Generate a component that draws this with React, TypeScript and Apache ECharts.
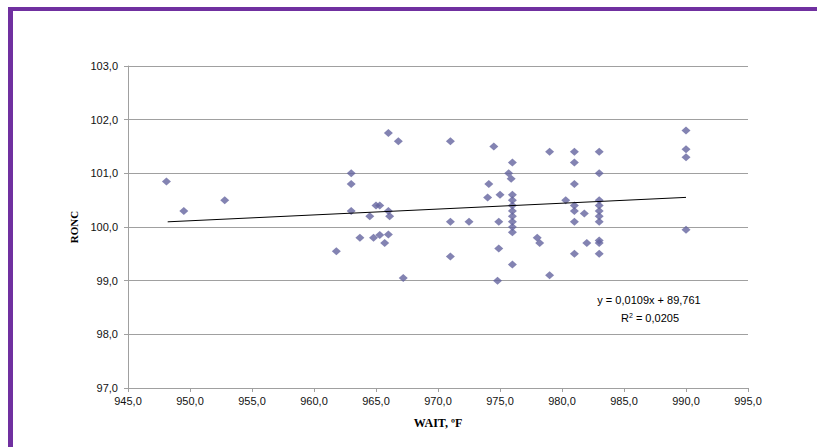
import React, { useEffect, useRef } from "react";
import * as echarts from "echarts";

const waitF: number[] = [
  948.1, 949.5, 952.8, 961.8, 963.0, 963.0, 963.0, 963.7, 964.5, 964.8,
  965.0, 965.3, 965.3, 965.7, 966.0, 966.0, 966.1, 966.0, 966.8, 967.2,
  971.0, 971.0, 971.0, 972.5, 974.0, 974.1, 974.5, 975.0, 974.9, 974.9,
  974.8, 975.7, 975.9, 976.0, 976.0, 976.0, 976.0, 976.0, 976.0, 976.0,
  976.0, 976.0, 976.0, 978.0, 978.2, 979.0, 979.0, 980.3, 981.0, 981.0,
  981.0, 981.0, 981.0, 981.0, 981.0, 981.8, 982.0, 983.0, 983.0, 983.0,
  983.0, 983.0, 983.0, 983.0, 983.0, 983.0, 983.0, 990.0, 990.0, 990.0,
  990.0,
];
const ronc: number[] = [
  100.85, 100.3, 100.5, 99.55, 101.0, 100.8, 100.3, 99.8, 100.2, 99.8,
  100.4, 100.4, 99.85, 99.7, 101.75, 100.3, 100.2, 99.86, 101.6, 99.05,
  101.6, 100.1, 99.45, 100.1, 100.55, 100.8, 101.5, 100.6, 100.1, 99.6,
  99.0, 101.0, 100.9, 101.2, 100.6, 100.5, 100.4, 100.3, 100.2, 100.1,
  100.0, 99.9, 99.3, 99.8, 99.7, 99.1, 101.4, 100.5, 101.4, 101.2,
  100.8, 100.4, 100.3, 100.1, 99.5, 100.25, 99.7, 101.4, 101.0, 100.5,
  100.4, 100.3, 100.2, 100.1, 99.75, 99.7, 99.5, 101.8, 101.45, 101.3,
  99.95,
];
const trendSlope = 0.0109;
const trendIntercept = 89.761;
const trendRangeX: number[] = [948.2, 990.0];
const equationText = "y = 0,0109x + 89,761";
const r2Value = "0,0205";

const fmt = (v: number) => v.toFixed(1).replace(".", ",");

export default function App() {
  const ref = useRef<HTMLDivElement>(null);
  useEffect(() => {
    if (!ref.current) return;
    const chart = echarts.init(ref.current, null, { renderer: "svg" });
    const points = waitF.map((x, i) => [x, ronc[i]]);
    const trend = trendRangeX.map((x) => [x, trendSlope * x + trendIntercept]);
    const labelFont = "Arial, 'Liberation Sans', sans-serif";
    const serif = "'Times New Roman', 'Liberation Serif', serif";
    chart.setOption({
      animation: false,
      backgroundColor: "#ffffff",
      grid: { left: 128, right: 69, top: 66, bottom: 59, containLabel: false },
      xAxis: {
        type: "value",
        min: 945,
        max: 995,
        interval: 5,
        name: "WAIT, ºF",
        nameLocation: "middle",
        nameGap: 29,
        nameTextStyle: { fontFamily: serif, fontWeight: "bold", fontSize: 12, color: "#000" },
        axisLine: { show: true, lineStyle: { color: "#a0a0a0", width: 1 } },
        axisTick: { show: true, length: 4, lineStyle: { color: "#a0a0a0" } },
        axisLabel: { formatter: fmt, fontFamily: labelFont, fontSize: 11, color: "#111", margin: 7 },
        splitLine: { show: false },
      },
      yAxis: {
        type: "value",
        min: 97,
        max: 103,
        interval: 1,
        name: "RONC",
        nameLocation: "middle",
        nameGap: 48,
        nameTextStyle: { fontFamily: serif, fontWeight: "bold", fontSize: 11, color: "#000" },
        axisLine: { show: true, lineStyle: { color: "#a0a0a0", width: 1 } },
        axisTick: { show: true, length: 4, lineStyle: { color: "#a0a0a0" } },
        axisLabel: { formatter: fmt, fontFamily: labelFont, fontSize: 11, color: "#111", margin: 10 },
        splitLine: { show: true, lineStyle: { color: "#a0a0a0", width: 1 } },
      },
      series: [
        {
          type: "scatter",
          data: points,
          symbol: "diamond",
          symbolSize: [9, 8],
          itemStyle: { color: "#64649f" },
          z: 3,
        },
        {
          type: "line",
          data: trend,
          symbol: "none",
          lineStyle: { color: "#000000", width: 1 },
          z: 4,
        },
      ],
      graphic: [
        { type: "rect", shape: { x: 8, y: 7, width: 809, height: 4 }, style: { fill: "#7030a0" } },
        { type: "rect", shape: { x: 8, y: 7, width: 5, height: 440 }, style: { fill: "#7030a0" } },
        {
          type: "text",
          x: 649,
          y: 300,
          style: {
            text: equationText,
            fontFamily: labelFont,
            fontSize: 11,
            fill: "#000",
            align: "center",
            verticalAlign: "middle",
          },
        },
        {
          type: "text",
          x: 650,
          y: 318,
          style: {
            text: "R{sup|2} = " + r2Value,
            fontFamily: labelFont,
            fontSize: 11,
            fill: "#000",
            align: "center",
            verticalAlign: "middle",
            rich: {
              sup: { fontSize: 7, verticalAlign: "top", padding: [0, 0, 6, 0], fontFamily: labelFont, fill: "#000" },
            },
          },
        },
      ],
    });
    return () => chart.dispose();
  }, []);
  return (
    <div
      ref={ref}
      style={{ position: "absolute", left: 0, top: 0, width: 817, height: 447, background: "#fff" }}
    />
  );
}
